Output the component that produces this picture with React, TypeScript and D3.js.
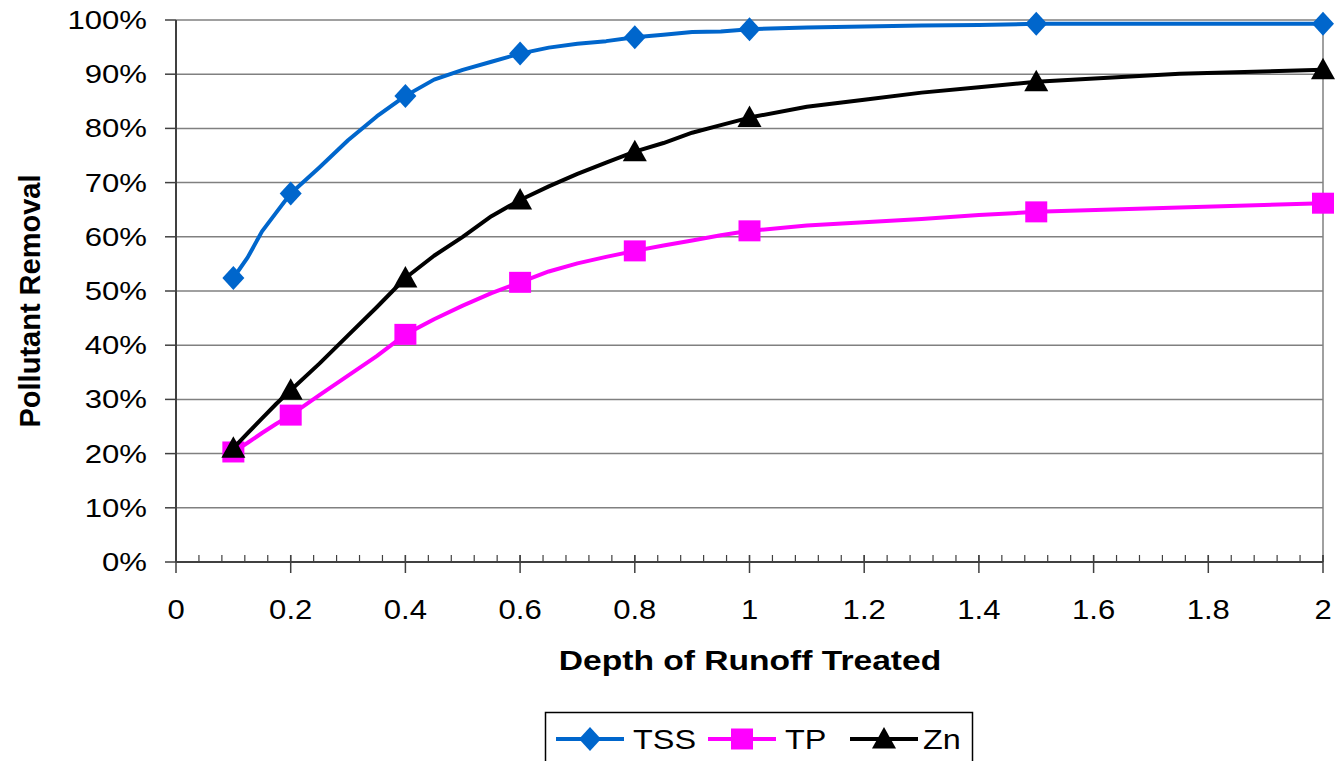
import React from 'react';
import * as d3 from 'd3';

// depth of runoff treated (in) at each line vertex
const depths = [0.1, 0.125, 0.15, 0.175, 0.2, 0.25, 0.3, 0.35, 0.4, 0.45, 0.5, 0.55, 0.6, 0.65, 0.7, 0.75, 0.8, 0.85, 0.9, 0.95, 1.0, 1.1, 1.2, 1.3, 1.4, 1.5, 1.75, 2.0];
const tss = [52.4, 56.2, 61.0, 64.5, 68.0, 72.8, 77.8, 82.2, 86.0, 89.0, 90.8, 92.3, 93.8, 94.9, 95.6, 96.1, 96.8, 97.3, 97.8, 97.9, 98.3, 98.6, 98.8, 99.0, 99.1, 99.3, 99.3, 99.3];
const tp = [20.3, 22.0, 23.8, 25.5, 27.1, 30.8, 34.4, 38.0, 42.0, 44.8, 47.3, 49.6, 51.6, 53.6, 55.1, 56.3, 57.4, 58.4, 59.3, 60.3, 61.1, 62.1, 62.7, 63.3, 64.0, 64.6, 65.4, 66.2];
const zn = [21.0, 23.8, 26.5, 29.2, 31.7, 36.6, 41.8, 47.0, 52.4, 56.5, 60.0, 63.8, 66.8, 69.3, 71.6, 73.7, 75.7, 77.3, 79.2, 80.6, 82.0, 84.0, 85.3, 86.6, 87.6, 88.6, 90.1, 90.8];
const markerDepths = [0.1, 0.2, 0.4, 0.6, 0.8, 1.0, 1.5, 2.0];

const yTicks = [0, 10, 20, 30, 40, 50, 60, 70, 80, 90, 100];
const xTicks = [0, 0.2, 0.4, 0.6, 0.8, 1, 1.2, 1.4, 1.6, 1.8, 2];
const xMinor = d3.range(0, 2.0001, 0.04);

const seriesNames = ['TSS', 'TP', 'Zn'];
const seriesValues = [tss, tp, zn];
const seriesColors = ['#0066CC', '#FF00FF', '#000000'];

const W = 1336, H = 761;
const left = 176, right = 1323, top = 20, bottom = 562;
const font = "'Liberation Sans', Arial, sans-serif";
const sx = 1.22; // text in the source is stretched sideways

const App: React.FC = () => {
  const x = d3.scaleLinear().domain([0, 2]).range([left, right]);
  const y = d3.scaleLinear().domain([0, 100]).range([bottom, top]);
  const line = d3.line<[number, number]>().x(d => x(d[0])).y(d => y(d[1]));

  const markerPath = (i: number) => {
    if (i === 0) return 'M0,-12L11,0L0,12L-11,0Z';
    if (i === 1) return 'M-11,-10.5L11,-10.5L11,10.5L-11,10.5Z';
    return 'M0,-12L12,9.5L-12,9.5Z';
  };

  const legendItems = [
    { x0: 556, tx: 633 },
    { x0: 708, tx: 785 },
    { x0: 850, tx: 923 },
  ];

  return (
    <svg width={W} height={H} style={{ position: 'absolute', left: 0, top: 0, background: '#fff' }}>
      {/* grid */}
      {yTicks.map(t => (
        <line key={'g' + t} x1={left} x2={right} y1={y(t)} y2={y(t)} stroke="#808080" strokeWidth={1.5} />
      ))}
      <line x1={right} x2={right} y1={top} y2={bottom} stroke="#808080" strokeWidth={1.5} />

      {/* y axis */}
      <line x1={left} x2={left} y1={top} y2={bottom} stroke="#404040" strokeWidth={2} />
      {yTicks.map(t => (
        <g key={'y' + t}>
          <line x1={left - 11} x2={left} y1={y(t)} y2={y(t)} stroke="#404040" strokeWidth={1.5} />
          <text transform={`translate(147,${y(t) + 9}) scale(${sx},1)`} textAnchor="end" fontFamily={font} fontSize={25.5} fill="#000">{t}%</text>
        </g>
      ))}

      {/* x axis */}
      <line x1={left} x2={right} y1={bottom} y2={bottom} stroke="#404040" strokeWidth={2} />
      {xMinor.map(t => (
        <line key={'m' + t} x1={x(t)} x2={x(t)} y1={bottom - 7} y2={bottom} stroke="#404040" strokeWidth={1.2} />
      ))}
      {xTicks.map(t => (
        <g key={'x' + t}>
          <line x1={x(t)} x2={x(t)} y1={bottom - 7} y2={bottom + 11} stroke="#404040" strokeWidth={1.5} />
          <text transform={`translate(${x(t)},619) scale(1.15,1)`} textAnchor="middle" fontFamily={font} fontSize={27} fill="#000">{String(t)}</text>
        </g>
      ))}

      {/* axis titles */}
      <text transform={`translate(750,670) scale(1.2,1)`} textAnchor="middle" fontFamily={font} fontWeight="bold" fontSize={28} fill="#000">Depth of Runoff Treated</text>
      <text transform={`translate(40,301) rotate(-90)`} textAnchor="middle" fontFamily={font} fontWeight="bold" fontSize={29} fill="#000">Pollutant Removal</text>

      {/* series */}
      {seriesValues.map((vals, i) => {
        const pts = depths.map((d, j) => [d, vals[j]] as [number, number]);
        return (
          <g key={'s' + i}>
            <path d={line(pts) || ''} fill="none" stroke={seriesColors[i]} strokeWidth={4} strokeLinejoin="round" />
            {pts.filter(p => markerDepths.includes(p[0])).map(p => (
              <path key={p[0]} d={markerPath(i)} transform={`translate(${x(p[0])},${y(p[1])})`} fill={seriesColors[i]} />
            ))}
          </g>
        );
      })}

      {/* legend */}
      <rect x={545.5} y={712.5} width={427} height={60} fill="#fff" stroke="#000" strokeWidth={1.5} />
      {seriesNames.map((n, i) => (
        <g key={'l' + n}>
          <line x1={legendItems[i].x0} x2={legendItems[i].x0 + 68} y1={739} y2={739} stroke={seriesColors[i]} strokeWidth={4} />
          <path d={markerPath(i)} transform={`translate(${legendItems[i].x0 + 34},739)`} fill={seriesColors[i]} />
          <text transform={`translate(${legendItems[i].tx},749) scale(1.2,1)`} fontFamily={font} fontSize={27} fill="#000">{n}</text>
        </g>
      ))}
    </svg>
  );
};

export default App;
